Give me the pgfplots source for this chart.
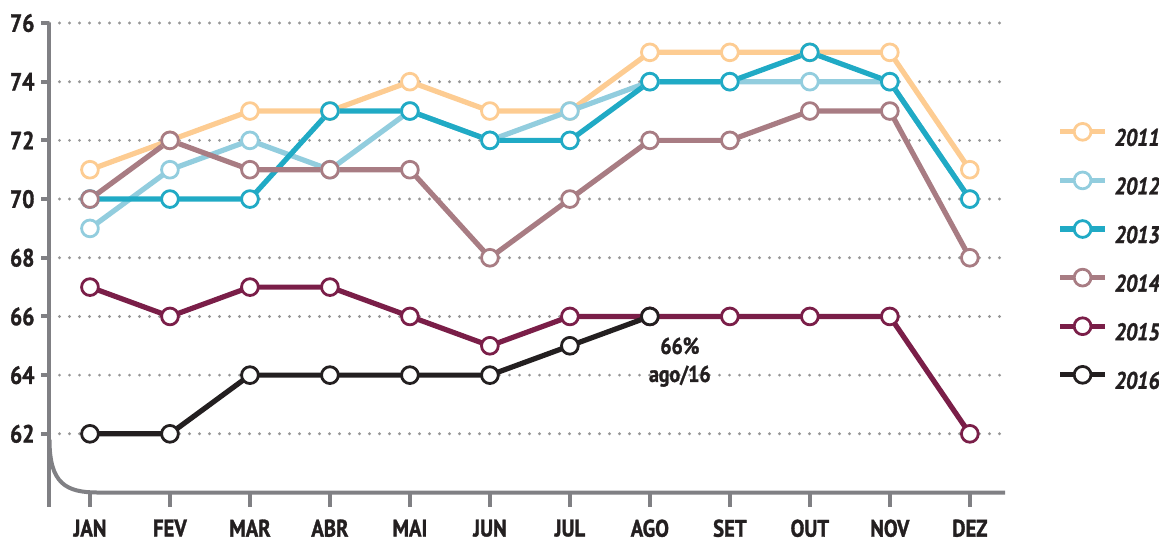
\documentclass[border=0pt]{standalone}
\usepackage{fontspec}
\setmainfont{PT Sans}[FakeStretch=0.86, BoldFeatures={FakeBold=1.3}, BoldItalicFeatures={FakeBold=1.3}]
\usepackage{pgfplots}
\pgfplotsset{compat=1.18}
\definecolor{c2011}{RGB}{253,204,146}
\definecolor{c2012}{RGB}{146,205,222}
\definecolor{c2013}{RGB}{32,170,197}
\definecolor{c2014}{RGB}{168,124,131}
\definecolor{c2015}{RGB}{122,30,72}
\definecolor{c2016}{RGB}{35,31,32}
\definecolor{axisgray}{RGB}{128,128,132}
\definecolor{gridgray}{RGB}{150,150,150}
\definecolor{textdark}{RGB}{35,31,32}
\begin{document}
\begin{tikzpicture}
\useasboundingbox (-24.75pt,-25.25pt) rectangle (554.75pt,246.25pt);
\begin{axis}[
  at={(0pt,0pt)}, anchor=south west,
  scale only axis, width=477.75pt, height=234.75pt,
  xmin=-0.506, xmax=11.44, ymin=60, ymax=76,
  clip=false,
  axis line style={draw=none},
  xtick={0,...,11},
  xticklabels={JAN,FEV,MAR,ABR,MAI,JUN,JUL,AGO,SET,OUT,NOV,DEZ},
  ytick={62,64,...,76},
  xtick pos=bottom, ytick pos=left,
  tick align=outside,
  major tick length=4pt,
  x tick style={draw=none},
  y tick style={line width=2pt, draw=axisgray},
  ymajorgrids,
  major grid style={dash pattern=on 0pt off 5pt, line cap=round, line width=1.6pt, draw=gridgray},
  /pgf/number format/assume math mode=true,
  yticklabel style={font=\bfseries\fontsize{12.5}{14}\selectfont, text=textdark},
  xticklabel style={font=\bfseries\fontsize{12}{14}\selectfont, text=textdark, yshift=-6pt},
  every axis plot/.append style={line width=2.6pt, line join=round, mark=*, mark size=4.2pt,
    mark options={fill=white, line width=1.4pt}},
  legend image code/.code={\draw[mark repeat=2,mark phase=2] plot coordinates {(0pt,4pt)(11.25pt,4pt)(22.5pt,4pt)};},
  legend style={at={(1.0545,0.787)}, anchor=north west, draw=none, fill=none, inner sep=0pt,
    font=\bfseries\itshape\fontsize{12}{14}\selectfont, text=textdark,
    nodes={text height=9pt, text depth=3pt, inner sep=0pt},
    row sep=10.1pt,
    /tikz/every even column/.append style={column sep=0pt},
    /tikz/every odd column/.append style={column sep=3.5pt}},
  legend cell align=left,
]
% axis decorations
\draw[axisgray, line width=2pt] (axis cs:-0.506,76) -- (axis cs:-0.506,59.5);
\draw[axisgray, line width=2pt] (axis cs:-0.506,61.8) .. controls (axis cs:-0.506,60.3) and (axis cs:-0.3,60) .. (axis cs:0.1,60) -- (axis cs:11.44,60);
\foreach \i in {0,...,11}{
  \edef\temp{\noexpand\draw[axisgray, line width=2pt] (axis cs:\i,60) -- (axis cs:\i,59.5);}
  \temp
}

\addplot[color=c2011] coordinates {(0,71)(1,72)(2,73)(3,73)(4,74)(5,73)(6,73)(7,75)(8,75)(9,75)(10,75)(11,71)};
\addlegendentry{2011}
\addplot[color=c2012] coordinates {(0,69)(1,71)(2,72)(3,71)(4,73)(5,72)(6,73)(7,74)(8,74)(9,74)(10,74)(11,70)};
\addlegendentry{2012}
\addplot[color=c2013] coordinates {(0,70)(1,70)(2,70)(3,73)(4,73)(5,72)(6,72)(7,74)(8,74)(9,75)(10,74)(11,70)};
\addlegendentry{2013}
\addplot[color=c2014] coordinates {(0,70)(1,72)(2,71)(3,71)(4,71)(5,68)(6,70)(7,72)(8,72)(9,73)(10,73)(11,68)};
\addlegendentry{2014}
\addplot[color=c2015] coordinates {(0,67)(1,66)(2,67)(3,67)(4,66)(5,65)(6,66)(7,66)(8,66)(9,66)(10,66)(11,62)};
\addlegendentry{2015}
\addplot[color=c2016] coordinates {(0,62)(1,62)(2,64)(3,64)(4,64)(5,64)(6,65)(7,66)};
\addlegendentry{2016}

\node[anchor=north, align=center, xshift=15pt, yshift=-7pt, text=textdark,
  font=\bfseries\fontsize{11.5}{14}\selectfont] at (axis cs:7,66) {66\%\\ago/16};
\end{axis}
\end{tikzpicture}
\end{document}
